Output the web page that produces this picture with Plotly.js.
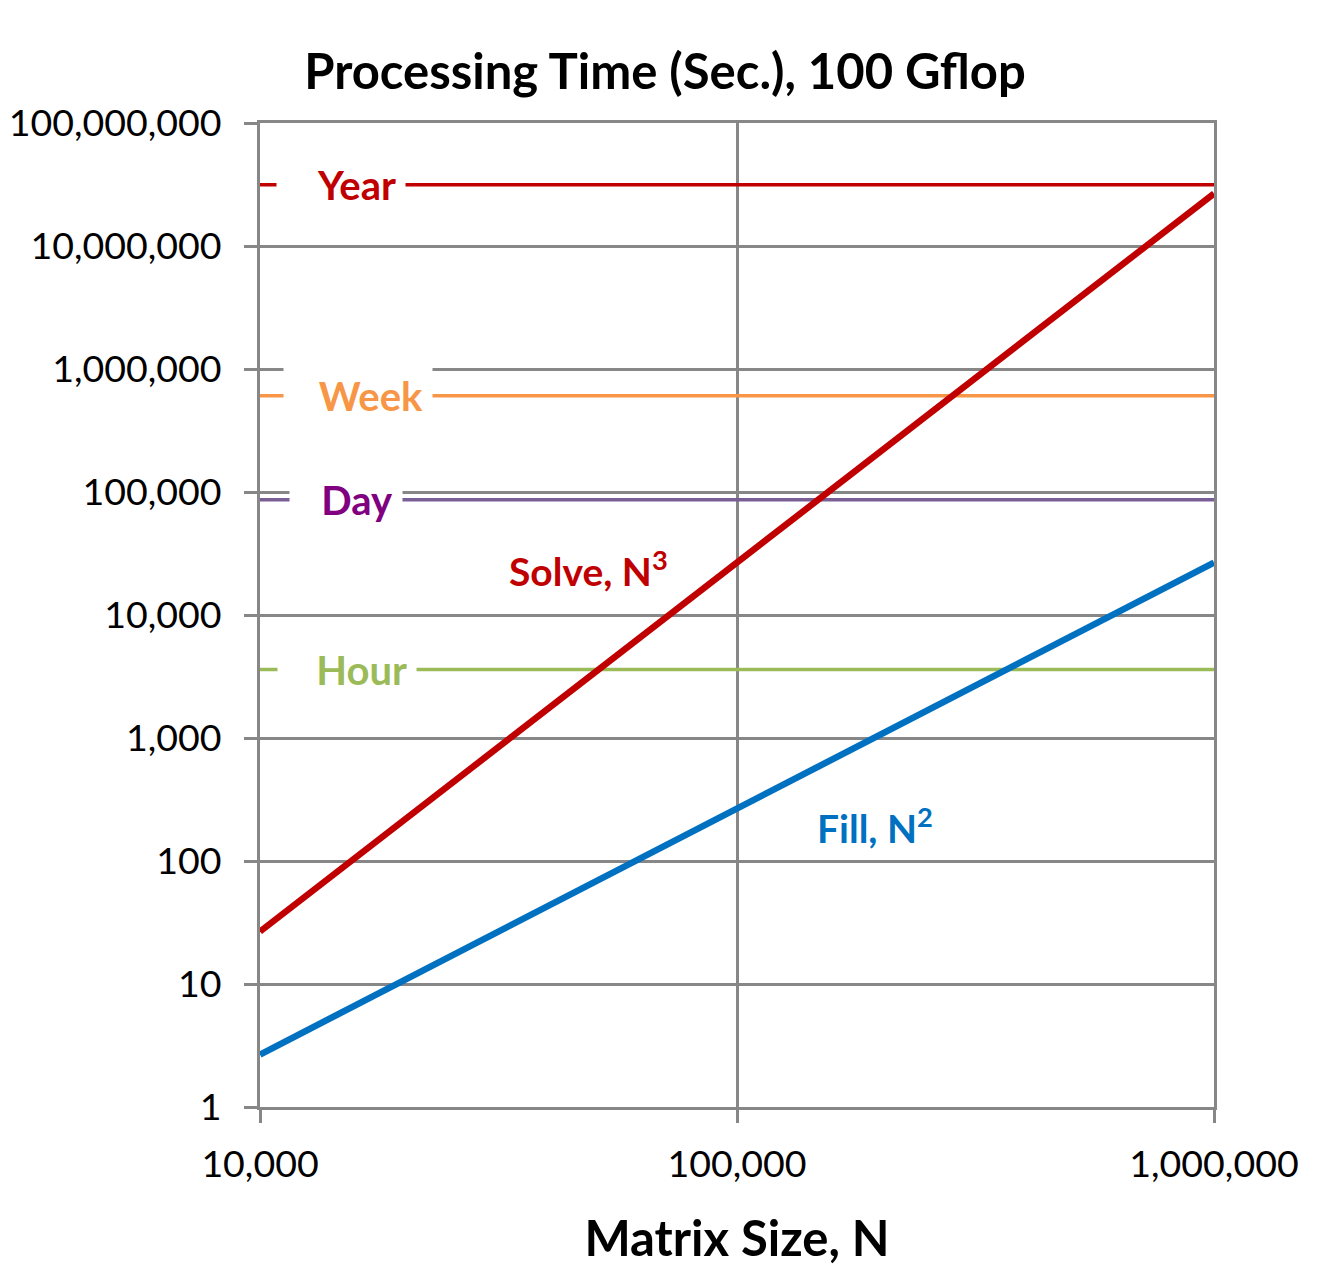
<!DOCTYPE html>
<html>
<head>
<meta charset="utf-8">
<script src="https://cdn.plot.ly/plotly-3.0.1.min.js"></script>
<style>html,body{margin:0;padding:0;background:#fff}#chart{width:1327px;height:1287px}</style>
</head>
<body>
<div id="chart"></div>
<script>
// Data
const matrixSize = [10000, 100000, 1000000];
const solveTime = [26.7, 26700, 26700000];
const fillTime = [2.67, 267, 26700];
const refNames = ["Year", "Week", "Day", "Hour"];
const refSeconds = [31536000, 604800, 86400, 3600];
const xTickVals = [10000, 100000, 1000000];
const xTickText = ["10,000", "100,000", "1,000,000"];
const yTickVals = [1, 10, 100, 1000, 10000, 100000, 1000000, 10000000, 100000000];
const yTickText = ["1", "10", "100", "1,000", "10,000", "100,000", "1,000,000", "10,000,000", "100,000,000"];

const FONT = "Lato, 'Open Sans', sans-serif";
const GRID = "#878787";
const refLineColors = ["#C00000", "#F79646", "#7A5E96", "#9BBB59"];
const refTextColors = ["#C00000", "#F79646", "#800080", "#9BBB59"];

const traces = [];
refNames.forEach((n, i) => {
  traces.push({
    x: [matrixSize[0], matrixSize[matrixSize.length - 1]],
    y: [refSeconds[i], refSeconds[i]],
    mode: "lines", line: {color: refLineColors[i], width: 3.5},
    hoverinfo: "skip", showlegend: false
  });
});
traces.push({x: matrixSize, y: solveTime, mode: "lines", line: {color: "#C00000", width: 6.5}, showlegend: false});
traces.push({x: matrixSize, y: fillTime, mode: "lines", line: {color: "#0070C0", width: 6.5}, showlegend: false});

// label box geometry in pixels (style)
const L = 260, W = 954;
const px = v => (v - L) / W;
const boxes = [
  {cx: 340.5, w: 110, align: "right"},
  {cx: 357.5, w: 130, align: "right"},
  {cx: 345.5, w: 94, align: "right"},
  {cx: 346.5, w: 120, align: "right"}
];
const annotations = refNames.map((n, i) => ({
  xref: "paper", x: px(boxes[i].cx), xanchor: "center",
  yref: "y", y: Math.log10(refSeconds[i]), yanchor: "middle",
  text: "<b>" + n + "</b>", showarrow: false,
  font: {family: FONT, size: 40, color: refTextColors[i]},
  bgcolor: "#ffffff", borderpad: 9, width: boxes[i].w, align: boxes[i].align
}));
annotations.push({
  xref: "paper", x: px(588), yref: "paper", y: (1107 - 568) / 984,
  xanchor: "center", yanchor: "middle", showarrow: false,
  text: "<b>Solve, N<sup>3</sup></b>", font: {family: FONT, size: 39, color: "#C00000"}
});
annotations.push({
  xref: "paper", x: px(875), yref: "paper", y: (1107 - 825) / 984,
  xanchor: "center", yanchor: "middle", showarrow: false,
  text: "<b>Fill, N<sup>2</sup></b>", font: {family: FONT, size: 39, color: "#0070C0"}
});

const layout = {
  width: 1327, height: 1287,
  margin: {l: 260, r: 113, t: 123, b: 180},
  paper_bgcolor: "#ffffff", plot_bgcolor: "#ffffff",
  font: {family: FONT, color: "#000"},
  title: {text: "<b>Processing Time (Sec.), 100 Gflop</b>", font: {family: FONT, size: 49, color: "#000"},
          x: 665 / 1327, xanchor: "center", y: 1 - 72 / 1287, yanchor: "middle"},
  xaxis: {
    type: "log", range: [4, 6], tickvals: xTickVals, ticktext: xTickText,
    showgrid: true, gridcolor: GRID, gridwidth: 3,
    showline: true, mirror: true, linecolor: GRID, linewidth: 3,
    ticks: "outside", ticklen: 13, tickwidth: 3, tickcolor: GRID,
    ticklabelstandoff: 9,
    tickfont: {family: FONT, size: 37.5, color: "#000"},
    title: {text: "<b>Matrix Size, N</b>", font: {family: FONT, size: 49, color: "#000"}, standoff: 38},
    zeroline: false, fixedrange: true
  },
  yaxis: {
    type: "log", range: [0, 8], tickvals: yTickVals, ticktext: yTickText,
    showgrid: true, gridcolor: GRID, gridwidth: 3,
    showline: true, mirror: true, linecolor: GRID, linewidth: 3,
    ticks: "outside", ticklen: 13, tickwidth: 3, tickcolor: GRID,
    ticklabelstandoff: 15,
    tickfont: {family: FONT, size: 37.5, color: "#000"},
    zeroline: false, fixedrange: true
  },
  annotations: annotations,
  showlegend: false
};

Plotly.newPlot("chart", traces, layout, {displayModeBar: false, staticPlot: true});
</script>
</body>
</html>
